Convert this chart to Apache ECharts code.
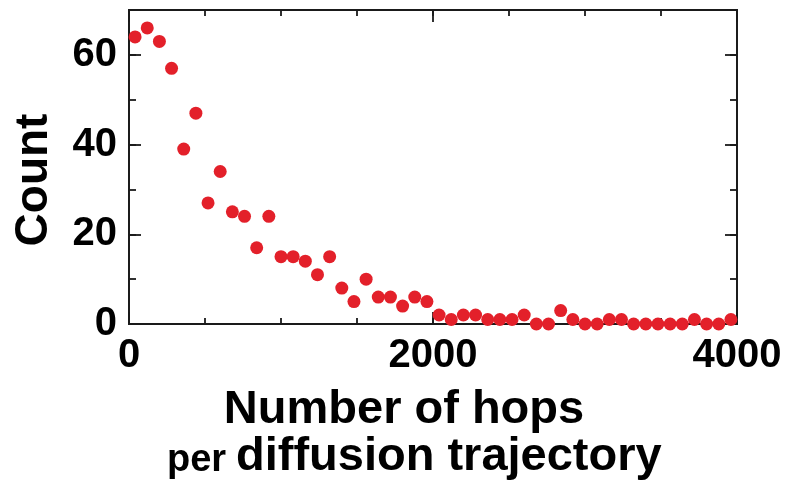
<!DOCTYPE html>
<html>
<head>
<meta charset="utf-8">
<script src="https://cdn.jsdelivr.net/npm/echarts@6/dist/echarts.min.js"></script>
<style>
  html, body { margin: 0; padding: 0; background: #fff; }
  #main { width: 789px; height: 485px; }
</style>
</head>
<body>
<div id="main"></div>
<script>
// bin centres (number of hops) and counts
var hops = [
  40, 120, 200, 280, 360, 440, 520, 600, 680, 760,
  840, 920, 1000, 1080, 1160, 1240, 1320, 1400, 1480, 1560,
  1640, 1720, 1800, 1880, 1960, 2040, 2120, 2200, 2280, 2360,
  2440, 2520, 2600, 2680, 2760, 2840, 2920, 3000, 3080, 3160,
  3240, 3320, 3400, 3480, 3560, 3640, 3720, 3800, 3880, 3960
];
var counts = [
  64, 66, 63, 57, 39, 47, 27, 34, 25, 24,
  17, 24, 15, 15, 14, 11, 15, 8, 5, 10,
  6, 6, 4, 6, 5, 2, 1, 2, 2, 1,
  1, 1, 2, 0, 0, 3, 1, 0, 0, 1,
  1, 0, 0, 0, 0, 0, 1, 0, 0, 1
];
var xTickLabels = ['0', '2000', '4000'];
var yTickLabels = ['0', '20', '40', '60'];

var FONT = '"Liberation Sans", Arial, Helvetica, sans-serif';
var INK = '#1a1a1a';

var points = hops.map(function(h, i) { return [h, counts[i]]; });

// one axis helper, used for the major/minor tick overlays on all four sides
function axis(pos, max, interval, tickLen, withLabels) {
  var a = {
    type: 'value',
    position: pos,
    min: 0,
    max: max,
    interval: interval,
    splitLine: { show: false },
    axisLine: { show: true, onZero: false, lineStyle: { color: INK, width: 1.8 } },
    axisTick: { show: true, inside: true, length: tickLen, lineStyle: { color: INK, width: 1.8 } },
    axisLabel: { show: false }
  };
  if (withLabels) a.axisLabel = withLabels;
  return a;
}

function tickLabel(list, margin) {
  return {
    show: true,
    margin: margin,
    color: '#000',
    fontFamily: FONT,
    fontWeight: 'bold',
    fontSize: 40,
    formatter: function(v) { return list.indexOf(String(v)) >= 0 ? String(v) : ''; }
  };
}

var chart = echarts.init(document.getElementById('main'), null, { renderer: 'canvas' });

chart.setOption({
  animation: false,
  backgroundColor: '#fff',
  grid: { left: 129, right: 52, top: 10, bottom: 161, containLabel: false },
  xAxis: [
    axis('bottom', 4000, 2000, 12, tickLabel(xTickLabels, 12)),
    axis('bottom', 4000, 500, 6, null),
    axis('top', 4000, 2000, 12, null),
    axis('top', 4000, 500, 6, null)
  ],
  yAxis: [
    axis('left', 70, 20, 12, tickLabel(yTickLabels, 12)),
    axis('left', 70, 10, 7, null),
    axis('right', 70, 20, 12, null),
    axis('right', 70, 10, 7, null)
  ],
  title: [
    {
      text: 'Number of hops',
      left: 399,
      top: 382,
      textAlign: 'center',
      textStyle: { fontFamily: FONT, fontWeight: 'bold', fontSize: 47, color: '#000' }
    },
    {
      text: 'per',
      left: 162,
      top: 437,
      textStyle: { fontFamily: FONT, fontWeight: 'bold', fontSize: 38, color: '#000' }
    },
    {
      text: 'diffusion trajectory',
      left: 231,
      top: 429,
      textStyle: { fontFamily: FONT, fontWeight: 'bold', fontSize: 47, color: '#000' }
    }
  ],
  graphic: [
    {
      type: 'text',
      x: 34,
      y: 180,
      rotation: Math.PI / 2,
      style: {
        text: 'Count',
        fontFamily: FONT,
        fontWeight: 'bold',
        fontSize: 46,
        fill: '#000',
        align: 'center',
        verticalAlign: 'middle'
      }
    }
  ],
  series: [
    {
      type: 'scatter',
      xAxisIndex: 0,
      yAxisIndex: 0,
      symbol: 'circle',
      symbolSize: 13,
      clip: false,
      itemStyle: { color: '#e3202a', opacity: 1 },
      data: points
    }
  ]
});
</script>
</body>
</html>
